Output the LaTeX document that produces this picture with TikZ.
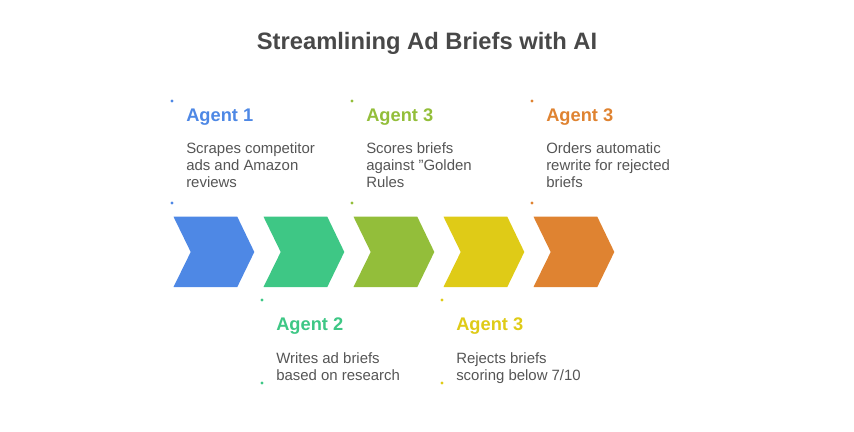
\documentclass[tikz,border=0pt]{standalone}
\usepackage{fontspec}
\setmainfont{Liberation Sans}
\definecolor{cblue}{HTML}{4E88E5}
\definecolor{cgreen}{HTML}{3EC785}
\definecolor{colive}{HTML}{93BE3A}
\definecolor{cyellow}{HTML}{DFCB17}
\definecolor{corange}{HTML}{DF8331}
\definecolor{ctext}{HTML}{555555}
\definecolor{ctitle}{HTML}{484848}
\begin{document}
\begin{tikzpicture}[x=0.75pt,y=-0.75pt,
  head/.style={anchor=base west,inner sep=0pt,font=\fontsize{13.7pt}{16pt}\selectfont\bfseries},
  body/.style={anchor=base west,inner sep=0pt,align=left,text=ctext,font=\fontsize{11.2pt}{12.75pt}\selectfont},
  dotmark/.style={circle,inner sep=0pt,minimum size=2.6pt}]
\useasboundingbox (0,0) rectangle (854,432);
\node[anchor=base,inner sep=0pt,text=ctitle,font=\fontsize{17.8pt}{21pt}\selectfont\bfseries] (title) at (427,49) {Streamlining Ad Briefs with AI};
% chevrons
\foreach \i/\c in {0/cblue,1/cgreen,2/colive,3/cyellow,4/corange}{
  \fill[\c] ({173.5+90*\i},216.7) -- ({237.3+90*\i},216.7) -- ({254.3+90*\i},252) -- ({237.3+90*\i},287) -- ({173.5+90*\i},287) -- ({190.7+90*\i},252) -- cycle;
}
% top entries (body anchored at baseline of last line)
\node[dotmark,fill=cblue] (d1a) at (172,101) {};
\node[dotmark,fill=cblue] (d1b) at (172,203) {};
\node[head,text=cblue] (h1) at (186,121) {Agent 1};
\node[body] (b1) at (186,187.3) {Scrapes competitor\\ads and Amazon\\reviews};
\node[dotmark,fill=colive] (d3a) at (352,101) {};
\node[dotmark,fill=colive] (d3b) at (352,203) {};
\node[head,text=colive] (h3) at (366,121) {Agent 3};
\node[body] (b3) at (366,187.3) {Scores briefs\\against "Golden\\Rules};
\node[dotmark,fill=corange] (d5a) at (532,101) {};
\node[dotmark,fill=corange] (d5b) at (532,203) {};
\node[head,text=corange] (h5) at (546,121) {Agent 3};
\node[body] (b5) at (546,187.3) {Orders automatic\\rewrite for rejected\\briefs};
% bottom entries
\node[dotmark,fill=cgreen] (d2a) at (262,300) {};
\node[dotmark,fill=cgreen] (d2b) at (262,383) {};
\node[head,text=cgreen] (h2) at (276,330.7) {Agent 2};
\node[body] (b2) at (276,380.3) {Writes ad briefs\\based on research};
\node[dotmark,fill=cyellow] (d4a) at (442,300) {};
\node[dotmark,fill=cyellow] (d4b) at (442,383) {};
\node[head,text=cyellow] (h4) at (456,330.7) {Agent 3};
\node[body] (b4) at (456,380.3) {Rejects briefs\\scoring below 7/10};
\end{tikzpicture}
\end{document}
